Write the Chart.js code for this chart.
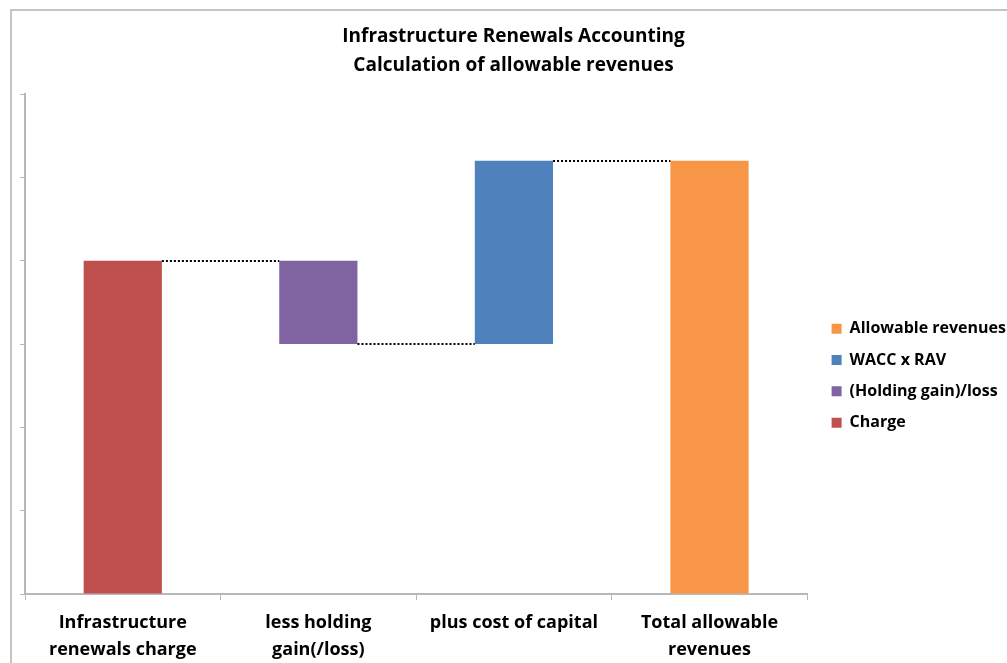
<!DOCTYPE html>
<html>
<head>
<meta charset="utf-8">
<script src="https://cdn.jsdelivr.net/npm/chart.js@4/dist/chart.umd.min.js"></script>
<style>
  html, body { margin: 0; padding: 0; background: #fff; overflow: hidden; }
  #frame { position: absolute; left: 10px; top: 9px; width: 1100px; height: 800px;
           border-left: 2px solid #c4c4c4; border-top: 2px solid #c4c4c4; }
  #wrap { position: absolute; left: 0; top: 0; width: 1007px; height: 672px; }
</style>
</head>
<body>
<div id="frame"></div>
<div id="wrap"><canvas id="grafico"></canvas></div>
<script>
// datos del grafico (cascada)
const categorias = [
  ['Infrastructure', 'renewals charge'],
  ['less holding', 'gain(/loss)'],
  'plus cost of capital',
  ['Total allowable', 'revenues']
];
const cargo = [[0, 4], null, null, null];
const holding = [null, [3, 4], null, null];
const wacc = [null, null, [3, 5.2], null];
const totalRev = [null, null, null, [0, 5.2]];
const conectores = [4, 3, 5.2];   // nivel de la linea punteada entre barras i e i+1
const yTicks = [0, 1, 2, 3, 4, 5, 6];

const gris = '#b8b8b8';
const fuente = '"Open Sans", sans-serif';

// lineas punteadas entre barras
const lineasPunteadas = {
  id: 'lineasPunteadas',
  afterDatasetsDraw(chart) {
    const ctx = chart.ctx;
    const y = chart.scales.y;
    const barras = [];
    chart.data.datasets.forEach((ds, di) => {
      chart.getDatasetMeta(di).data.forEach((el, i) => {
        if (ds.data[i]) barras[i] = el;
      });
    });
    ctx.save();
    ctx.strokeStyle = '#000';
    ctx.lineWidth = 2;
    ctx.setLineDash([2, 2]);
    conectores.forEach((nivel, i) => {
      const a = barras[i], b = barras[i + 1];
      if (!a || !b) return;
      const py = Math.round(y.getPixelForValue(nivel));
      ctx.beginPath();
      ctx.moveTo(a.x + a.width / 2, py);
      ctx.lineTo(b.x - b.width / 2, py);
      ctx.stroke();
    });
    ctx.restore();
  }
};

// mover la leyenda un poco a la derecha
const moverLeyenda = {
  id: 'moverLeyenda',
  afterLayout(chart) {
    if (chart.legend) {
      chart.legend.left += 9;
      chart.legend.right += 9;
    }
  }
};

const ctx = document.getElementById('grafico').getContext('2d');
new Chart(ctx, {
  type: 'bar',
  data: {
    labels: categorias,
    datasets: [
      { label: 'Charge', data: cargo, backgroundColor: '#C0504D' },
      { label: '(Holding gain)/loss', data: holding, backgroundColor: '#8064A2' },
      { label: 'WACC x RAV', data: wacc, backgroundColor: '#4F81BD' },
      { label: 'Allowable revenues', data: totalRev, backgroundColor: '#F79646' }
    ]
  },
  options: {
    responsive: true,
    maintainAspectRatio: false,
    animation: false,
    datasets: {
      bar: { grouped: false, categoryPercentage: 1, barPercentage: 0.4, borderWidth: 0 }
    },
    layout: { padding: { left: 20, top: 8, right: 0, bottom: 0 } },
    scales: {
      x: {
        grid: { drawOnChartArea: false, color: gris, tickLength: 6, offset: true },
        border: { color: gris, width: 2 },
        ticks: {
          color: '#000',
          padding: 9,
          maxRotation: 0,
          autoSkip: false,
          font: { family: fuente, size: 18, weight: 'bold', lineHeight: 1.5 }
        }
      },
      y: {
        min: 0,
        max: 6,
        afterBuildTicks: (ax) => { ax.ticks = yTicks.map(v => ({ value: v })); },
        grid: { drawOnChartArea: false, color: gris, tickLength: 5 },
        border: { color: gris, width: 2 },
        ticks: { display: false }
      }
    },
    plugins: {
      title: {
        display: true,
        text: ['Infrastructure Renewals Accounting', 'Calculation of allowable revenues'],
        color: '#000',
        font: { family: fuente, size: 19, weight: 'bold', lineHeight: 1.53 },
        padding: { top: 14, bottom: 14 }
      },
      legend: {
        position: 'right',
        reverse: true,
        title: {
          display: true,
          text: ' ',
          color: 'rgba(0,0,0,0)',
          padding: { top: 57, bottom: 0 }
        },
        labels: {
          boxWidth: 10,
          boxHeight: 10,
          padding: 15.33,
          color: '#000',
          font: { family: fuente, size: 16, weight: 'bold' }
        }
      },
      tooltip: { enabled: true }
    }
  },
  plugins: [lineasPunteadas, moverLeyenda]
});
</script>
</body>
</html>
